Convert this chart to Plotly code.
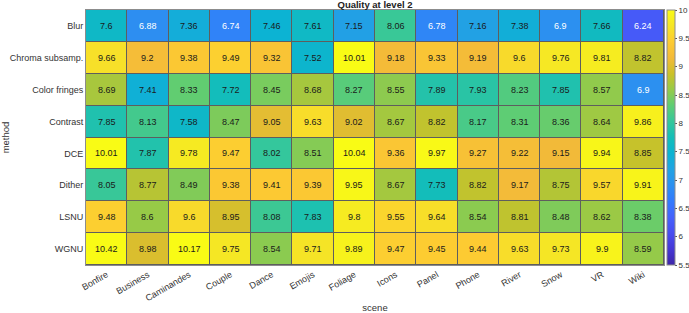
import plotly.graph_objects as go

scenes = ["Bonfire", "Business", "Caminandes", "Couple", "Dance", "Emojis", "Foliage",
          "Icons", "Panel", "Phone", "River", "Snow", "VR", "Wiki"]
methods = ["Blur", "Chroma subsamp.", "Color fringes", "Contrast", "DCE", "Dither", "LSNU", "WGNU"]

blur = [7.6, 6.88, 7.36, 6.74, 7.46, 7.61, 7.15, 8.06, 6.78, 7.16, 7.38, 6.9, 7.66, 6.24]
chroma = [9.66, 9.2, 9.38, 9.49, 9.32, 7.52, 10.01, 9.18, 9.33, 9.19, 9.6, 9.76, 9.81, 8.82]
fringes = [8.69, 7.41, 8.33, 7.72, 8.45, 8.68, 8.27, 8.55, 7.89, 7.93, 8.23, 7.85, 8.57, 6.9]
contrast = [7.85, 8.13, 7.58, 8.47, 9.05, 9.63, 9.02, 8.67, 8.82, 8.17, 8.31, 8.36, 8.64, 9.86]
dce = [10.01, 7.87, 9.78, 9.47, 8.02, 8.51, 10.04, 9.36, 9.97, 9.27, 9.22, 9.15, 9.94, 8.85]
dither = [8.05, 8.77, 8.49, 9.38, 9.41, 9.39, 9.95, 8.67, 7.73, 8.82, 9.17, 8.75, 9.57, 9.91]
lsnu = [9.48, 8.6, 9.6, 8.95, 8.08, 7.83, 9.8, 9.55, 9.64, 8.54, 8.81, 8.48, 8.62, 8.38]
wgnu = [10.42, 8.98, 10.17, 9.75, 8.54, 9.71, 9.89, 9.47, 9.45, 9.44, 9.63, 9.73, 9.9, 8.59]

z = [blur, chroma, fringes, contrast, dce, dither, lsnu, wgnu]

cbar_ticks = [5.5, 6, 6.5, 7, 7.5, 8, 8.5, 9, 9.5, 10]

parula_rgb = [
    (0.2422, 0.1504, 0.6603), (0.2704, 0.2138, 0.8346), (0.2813, 0.2985, 0.9397),
    (0.2710, 0.3860, 0.9898), (0.2006, 0.4803, 0.9906), (0.1716, 0.5655, 0.9393),
    (0.1288, 0.6408, 0.8910), (0.0433, 0.7039, 0.8242), (0.0770, 0.7468, 0.7224),
    (0.2061, 0.7808, 0.6065), (0.3671, 0.8021, 0.4563), (0.5886, 0.7913, 0.2833),
    (0.7945, 0.7554, 0.1570), (0.9523, 0.7284, 0.2237), (0.9938, 0.7974, 0.1974),
    (0.9601, 0.8963, 0.1507), (0.9769, 0.9839, 0.0805)]
n = len(parula_rgb) - 1
colorscale = [[i / n, "rgb(%d,%d,%d)" % tuple(round(c * 255) for c in rgb)]
              for i, rgb in enumerate(parula_rgb)]

font_family = "Liberation Sans, Arial, sans-serif"

fig = go.Figure(go.Heatmap(
    z=z, x=scenes, y=methods, zmin=5.5, zmax=10, colorscale=colorscale,
    xgap=1, ygap=1, hoverongaps=False,
    colorbar=dict(x=1.005, xanchor="left", y=0.5, yanchor="middle", len=1, lenmode="fraction",
                  thickness=8, outlinewidth=1, outlinecolor="#8c8c8c",
                  tickvals=cbar_ticks, ticktext=[("%g" % t) for t in cbar_ticks],
                  ticks="outside", ticklen=2, tickcolor="#555", xpad=0, ypad=0,
                  tickfont=dict(size=8, color="#333", family=font_family))
))

annotations = []
for i, m in enumerate(methods):
    for j, s in enumerate(scenes):
        v = z[i][j]
        annotations.append(dict(x=s, y=m, text=str(v), showarrow=False,
                                font=dict(size=9, family=font_family,
                                          color="white" if v < 7 else "#1a1a1a")))

fig.update_layout(
    width=689, height=313,
    margin=dict(l=86, r=25, t=10, b=48, autoexpand=False),
    paper_bgcolor="white", plot_bgcolor="#5e5e5e",
    font=dict(family=font_family, size=9, color="#333"),
    title=dict(text="<b>Quality at level 2</b>", x=0.5, xref="paper", y=0.984, yref="container",
               xanchor="center", yanchor="middle",
               font=dict(size=9.5, color="#222", family=font_family)),
    annotations=annotations,
    xaxis=dict(tickangle=-30, ticks="", showline=True, mirror=True, linecolor="#8c8c8c",
               linewidth=1, showgrid=False, zeroline=False,
               tickfont=dict(size=9, color="#333", family=font_family),
               title=dict(text="scene", standoff=2,
                          font=dict(size=9.5, color="#333", family=font_family))),
    yaxis=dict(autorange="reversed", ticks="", showline=True, mirror=True, linecolor="#8c8c8c",
               linewidth=1, showgrid=False, zeroline=False,
               tickfont=dict(size=9, color="#333", family=font_family),
               title=dict(text="method", standoff=0,
                          font=dict(size=9.5, color="#333", family=font_family))),
)

fig.write_html("out.html", config={"displayModeBar": False},
               post_script="document.body.style.margin='0';document.body.style.overflow='hidden';")
